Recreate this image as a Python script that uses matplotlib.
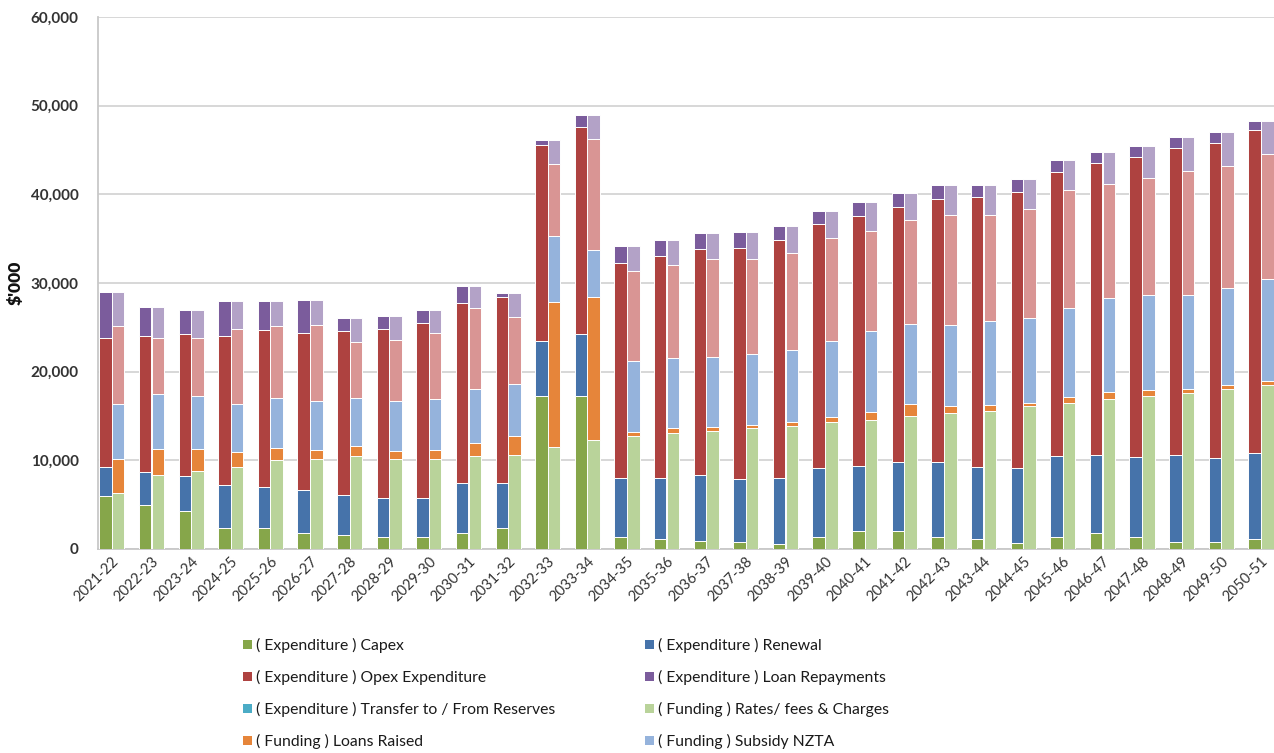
import matplotlib
matplotlib.use("Agg")
import matplotlib.pyplot as plt
from matplotlib.patches import Patch
from matplotlib.ticker import FuncFormatter
import numpy as np

plt.rcParams["font.family"] = ["Lato", "DejaVu Sans"]

years = ["2021-22", "2022-23", "2023-24", "2024-25", "2025-26", "2026-27",
         "2027-28", "2028-29", "2029-30", "2030-31", "2031-32", "2032-33",
         "2033-34", "2034-35", "2035-36", "2036-37", "2037-38", "2038-39",
         "2039-40", "2040-41", "2041-42", "2042-43", "2043-44", "2044-45",
         "2045-46", "2046-47", "2047-48", "2048-49", "2049-50", "2050-51"]

# Expenditure components ($'000)
exp_capex = [6000, 5000, 4300, 2400, 2400, 1800, 1600, 1400, 1400, 1800,
             2400, 17200, 17200, 1400, 1100, 900, 800, 600, 1300, 2000,
             2000, 1300, 1100, 700, 1300, 1800, 1400, 800, 800, 1100]
exp_renewal = [3200, 3700, 3900, 4800, 4600, 4900, 4500, 4400, 4400, 5700,
               5100, 6300, 7000, 6600, 6900, 7400, 7100, 7400, 7800, 7400,
               7800, 8500, 8100, 8400, 9200, 8800, 9000, 9800, 9500, 9700]
exp_opex = [14600, 15300, 16100, 16800, 17700, 17700, 18500, 19000, 19700, 20200,
            20900, 22100, 23400, 24200, 25000, 25500, 26100, 26800, 27500, 28200,
            28800, 29700, 30500, 31200, 32000, 32900, 33800, 34600, 35500, 36500]
exp_loan_repay = [5200, 3300, 2600, 4000, 3300, 3700, 1400, 1500, 1500, 2000,
                  500, 500, 1300, 2000, 1900, 1800, 1700, 1600, 1500, 1500,
                  1600, 1500, 1400, 1400, 1400, 1300, 1200, 1300, 1200, 1000]
exp_transfer = [0, 0, 0, 0, 0, 0, 0, 0, 0, 0,
                0, 0, 0, 0, 0, 0, 0, 0, 0, 0,
                0, 0, 0, 0, 0, 0, 0, 0, 0, 0]

# Funding components ($'000)
fund_rates = [6300, 8300, 8800, 9300, 10000, 10100, 10500, 10200, 10200, 10500,
              10600, 11500, 12300, 12800, 13100, 13300, 13700, 13900, 14300, 14600,
              15000, 15300, 15600, 16100, 16500, 16900, 17200, 17600, 18100, 18500]
fund_loans = [3800, 3000, 2500, 1600, 1400, 1100, 1100, 800, 1000, 1500,
              2100, 16400, 16100, 400, 500, 500, 300, 400, 600, 900,
              1300, 800, 600, 400, 600, 800, 700, 400, 400, 500]
fund_nzta = [6200, 6200, 5900, 5400, 5600, 5500, 5400, 5700, 5700, 6000,
             5900, 7400, 5300, 8000, 7900, 7800, 8000, 8200, 8600, 9100,
             9100, 9200, 9500, 9500, 10100, 10600, 10700, 10600, 10900, 11500]
fund_other = [8800, 6300, 6600, 8500, 8200, 8600, 6300, 6900, 7500, 9200,
              7600, 8100, 12500, 10200, 10500, 11100, 10700, 10900, 11600, 11300,
              11700, 12400, 12000, 12300, 13300, 12900, 13200, 14000, 13800, 14000]
fund_reserves = [3900, 3500, 3100, 3200, 2800, 2800, 2700, 2700, 2600, 2500,
                 2700, 2700, 2700, 2800, 2900, 2900, 3000, 3000, 3000, 3200,
                 3100, 3300, 3400, 3400, 3400, 3600, 3600, 3900, 3800, 3800]

expenditure = [
    ("( Expenditure ) Capex", exp_capex, "#86a64a"),
    ("( Expenditure ) Renewal", exp_renewal, "#4673aa"),
    ("( Expenditure ) Opex Expenditure", exp_opex, "#ae4240"),
    ("( Expenditure ) Loan Repayments", exp_loan_repay, "#7b5c9c"),
    ("( Expenditure ) Transfer to / From Reserves", exp_transfer, "#4bacc6"),
]
funding = [
    ("( Funding ) Rates/ fees & Charges", fund_rates, "#b9d39a"),
    ("( Funding ) Loans Raised", fund_loans, "#e6853a"),
    ("( Funding ) Subsidy NZTA", fund_nzta, "#95b3dc"),
    ("( Funding ) Other Income", fund_other, "#d99594"),
    ("( Funding ) Reserves", fund_reserves, "#b3a2c7"),
]

fig = plt.figure(figsize=(12.74, 7.53), dpi=100)
ax = fig.add_axes([98 / 1274, 1 - 549 / 753, 1 - 98 / 1274, (549 - 17) / 753])

x = np.arange(len(years))
width = 0.315
offset = 0.16


def stack(series, xpos):
    bottom = np.zeros(len(years))
    for label, vals, color in series:
        vals = np.asarray(vals, dtype=float)
        ax.bar(xpos, vals, width, bottom=bottom, color=color,
               edgecolor="white", linewidth=0.7, label=label, zorder=3)
        bottom += vals


stack(expenditure, x - offset)
stack(funding, x + offset)

ax.set_ylim(0, 60000)
ax.set_xlim(-0.35, 29.33)
ax.set_yticks(np.arange(0, 60001, 10000))
ax.yaxis.set_major_formatter(FuncFormatter(lambda v, p: f"{int(v):,}"))
ax.grid(axis="y", color="#d4d4d4", linewidth=1.3, zorder=0)
ax.set_axisbelow(True)

for side in ("top", "right"):
    ax.spines[side].set_visible(False)
ax.spines["left"].set_color("#c8c8c8")
ax.spines["left"].set_linewidth(1.3)
ax.spines["bottom"].set_color("#c8c8c8")
ax.spines["bottom"].set_linewidth(1.3)

ax.tick_params(axis="y", length=0, pad=14, labelsize=11, labelcolor="#333333")
ax.tick_params(axis="x", length=0, pad=4, labelsize=10.5, labelcolor="#333333")
for t in ax.get_yticklabels():
    t.set_fontweight("bold")

ax.set_xticks(x)
ax.set_xticklabels(years, rotation=45, ha="right", rotation_mode="anchor")

ax.set_ylabel("$'000", fontsize=12.5, fontweight="heavy", color="#111111", labelpad=5)

# Legend in two columns beneath the chart
col1 = [expenditure[0], expenditure[2], expenditure[4], funding[1]]
col2 = [expenditure[1], expenditure[3], funding[0], funding[2]]
for entries, xpos in ((col1, 243 / 1274), (col2, 645 / 1274)):
    handles = [Patch(facecolor=c, edgecolor="none") for _, _, c in entries]
    labels = [lab for lab, _, _ in entries]
    fig.legend(handles, labels, loc="upper left", bbox_to_anchor=(xpos, 1 - 638 / 753),
               frameon=False, fontsize=11.3, handlelength=0.55, handleheight=0.55,
               handletextpad=0.3, labelspacing=1.08, labelcolor="#1a1a1a",
               borderpad=0, borderaxespad=0)

fig.savefig("out.png", dpi=100)
